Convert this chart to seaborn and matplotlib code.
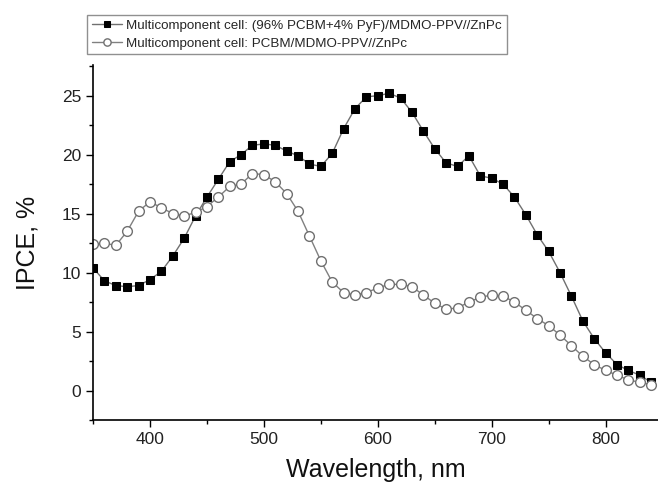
import numpy as np
import pandas as pd
import matplotlib
matplotlib.use("Agg")
import matplotlib.pyplot as plt
from matplotlib.ticker import MultipleLocator
import seaborn as sns

# ── data (10 nm steps) ──
wavelength = list(range(350, 850, 10))

ipce_pyf = [10.4, 9.3, 8.9, 8.8, 8.9, 9.4, 10.1, 11.4, 12.9, 14.8,
            16.4, 17.9, 19.4, 20.0, 20.8, 20.9, 20.8, 20.3, 19.9, 19.2,
            19.0, 20.1, 22.2, 23.9, 24.9, 25.0, 25.2, 24.8, 23.6, 22.0,
            20.5, 19.3, 19.0, 19.9, 18.2, 18.0, 17.5, 16.4, 14.9, 13.2,
            11.8, 10.0, 8.0, 5.9, 4.4, 3.2, 2.2, 1.7, 1.3, 0.7]

ipce_ref = [12.4, 12.5, 12.3, 13.5, 15.2, 16.0, 15.5, 15.0, 14.8, 15.1,
            15.6, 16.4, 17.3, 17.5, 18.4, 18.3, 17.7, 16.7, 15.2, 13.1,
            11.0, 9.2, 8.3, 8.1, 8.3, 8.7, 9.0, 9.0, 8.8, 8.1,
            7.4, 6.9, 7.0, 7.5, 7.9, 8.1, 8.0, 7.5, 6.8, 6.1,
            5.5, 4.7, 3.8, 2.9, 2.2, 1.7, 1.3, 0.9, 0.7, 0.5]

label_pyf = "Multicomponent cell: (96% PCBM+4% PyF)/MDMO-PPV//ZnPc"
label_ref = "Multicomponent cell: PCBM/MDMO-PPV//ZnPc"

sns.set_style("ticks")
plt.rcParams["font.family"] = ["Liberation Sans", "DejaVu Sans"]

fig = plt.figure(figsize=(6.58, 4.90), dpi=100)
ax = fig.add_axes([93 / 658, 70 / 490, 1 - 93 / 658, 355 / 490])

sns.lineplot(x=wavelength, y=ipce_pyf, ax=ax, color="#707070", lw=1.0,
             marker="s", markersize=6.3, markerfacecolor="black",
             markeredgecolor="black", label=label_pyf)
sns.lineplot(x=wavelength, y=ipce_ref, ax=ax, color="#808080", lw=1.0,
             marker="o", markersize=7, markerfacecolor="white",
             markeredgecolor="#707070", markeredgewidth=1.0, label=label_ref)

ax.set_xlim(350, 846)
ax.set_ylim(-2.5, 27.6)
ax.xaxis.set_major_locator(MultipleLocator(100))
ax.xaxis.set_minor_locator(MultipleLocator(50))
ax.yaxis.set_major_locator(MultipleLocator(5))
ax.yaxis.set_minor_locator(MultipleLocator(2.5))

for side in ["top", "right"]:
    ax.spines[side].set_visible(False)
for side in ["left", "bottom"]:
    ax.spines[side].set_color("black")
    ax.spines[side].set_linewidth(1.2)

ax.tick_params(which="major", direction="out", length=5, width=1.0,
               labelsize=12.5, colors="black", labelcolor="#222222")
ax.tick_params(which="minor", direction="out", length=3, width=1.0, colors="black")

ax.set_xlabel("Wavelength, nm", fontsize=18, color="#111111", labelpad=8)
ax.set_ylabel("IPCE, %", fontsize=18, color="#111111", labelpad=16)

leg = ax.legend(loc="upper left", bbox_to_anchor=(87 / 658, 1 - 15 / 490),
                bbox_transform=fig.transFigure, borderaxespad=0,
                fontsize=9.6, frameon=True, fancybox=False, framealpha=1,
                edgecolor="#909090", handlelength=2.3, handletextpad=0.3,
                labelspacing=0.4, borderpad=0.35, markerscale=0.75)
leg.get_frame().set_linewidth(1.0)

fig.savefig("out.png", dpi=100)
